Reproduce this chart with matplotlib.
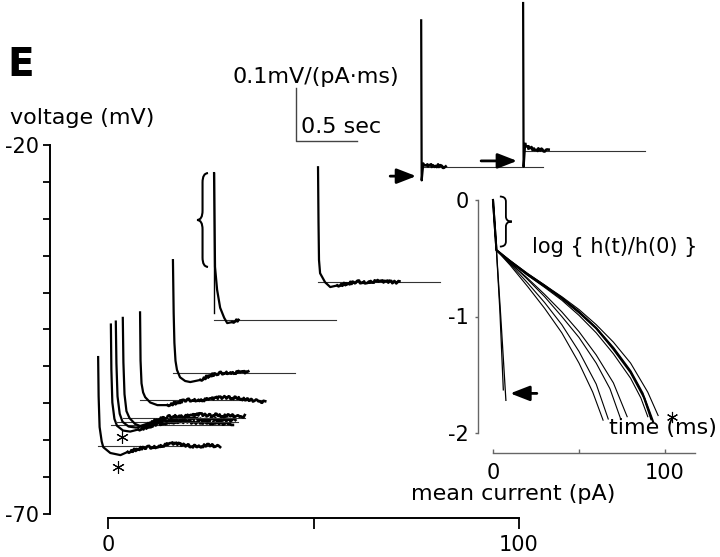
import numpy as np
import matplotlib.pyplot as plt
from matplotlib.path import Path
from matplotlib.patches import PathPatch

plt.rcParams['font.family'] = ['DejaVu Sans']
plt.rcParams['axes.unicode_minus'] = False

W, H = 720, 557

# offset of each response: mean current (pA) and voltage (mV)
mean_current = [-2.4, 0.7, 1.9, 3.6, 7.8, 15.8, 25.8, 51.1, 76.2, 101.0]
voltage = [-60.8, -57.9, -57.5, -57.0, -54.6, -50.9, -43.7, -38.6, -23.0, -20.8]
# time (ms) where the trace becomes noisy
noise_start = [242, 225, 230, 210, 225, 225, 150, 158, 17, 17]

# impulse responses h(t): time (ms), h (mV/(pA*ms))
a_t = [0, 4, 12, 29, 42, 100, 183, 242, 350, 420, 490, 550, 600, 650, 710, 770, 825, 870, 908, 960, 1000]
a_h = [.168, .094, .036, .009, -.002, -.013, -.017, -.011, -.004, -.002, -.001, .002, .005, .004, .002, .000, -.001, .001, .002, .000, -.001]
b_t = [0, 4, 12, 29, 50, 100, 158, 225, 308, 370, 430, 500, 560, 620, 680, 740, 800, 860, 920, 1000]
b_h = [.189, .104, .042, .011, -.002, -.011, -.013, -.009, -.004, .001, .003, .005, .004, .006, .004, .005, .003, .004, .002, .002]
b2_t = [0, 5, 14, 32, 55, 105, 165, 230, 310, 380, 450, 520, 590, 660, 730, 800, 870, 930, 980]
b2_h = [.189, .110, .048, .015, .000, -.009, -.011, -.008, -.002, .002, .004, .003, .006, .005, .003, .005, .004, .003, .004]
c_t = [0, 5, 14, 30, 55, 100, 142, 210, 290, 360, 430, 500, 570, 640, 700, 760, 820, 880, 940, 1000]
c_h = [.189, .105, .045, .013, .000, -.011, -.015, -.010, -.003, .002, .004, .003, .005, .007, .005, .006, .004, .005, .003, .004]
d_t = [0, 4, 12, 25, 42, 83, 142, 225, 308, 360, 430, 500, 560, 620, 692, 750, 808, 860, 917, 970, 1025]
d_h = [.166, .075, .032, .015, .006, -.004, -.009, -.009, -.004, .000, .001, .000, .002, .004, .006, .005, .004, .002, .000, -.001, -.003]
e_t = [0, 6, 12, 21, 33, 58, 100, 142, 225, 308, 370, 430, 490, 550, 617]
e_h = [.213, .113, .057, .023, .006, -.008, -.015, -.017, -.013, -.004, -.001, .001, .000, .002, .001]
f_t = [0, 8, 25, 50, 83, 108, 150, 175, 200]
f_h = [.277, .100, .057, .023, .004, -.006, -.004, -.001, .000]
g_t = [0, 4, 8, 17, 58, 100, 158, 250, 320, 400, 480, 560, 667]
g_h = [.217, .113, .042, .017, .000, -.009, -.006, -.002, .001, .000, .002, .001, .000]
h_t = [0, 4, 17, 50, 80, 110, 140, 170, 200]
h_h = [.277, -.025, .006, .004, .003, .002, .003, .001, .000]
i_t = [0, 4, 17, 50, 80, 110, 140, 170, 208]
i_h = [.279, -.030, .013, .006, .004, .002, .003, .001, .000]

# scale bar values
bar_ms = 500
bar_h = 0.1
baseline_ms = 1000

# inset: log{h(t)/h(0)} vs time (ms)
s1_t = [0, 2, 10, 20, 30, 40, 50, 58, 64]
s1_y = [0, -.43, -.56, -.74, -.93, -1.14, -1.40, -1.65, -1.89]
s2_t = [0, 2, 10, 20, 30, 40, 50, 60, 67]
s2_y = [0, -.43, -.55, -.71, -.88, -1.07, -1.30, -1.58, -1.88]
s3_t = [0, 2, 10, 20, 30, 40, 50, 60, 68, 74]
s3_y = [0, -.43, -.54, -.68, -.83, -1.0, -1.18, -1.40, -1.62, -1.87]
s4_t = [0, 2, 10, 20, 30, 40, 50, 60, 70, 78]
s4_y = [0, -.43, -.54, -.67, -.81, -.96, -1.13, -1.33, -1.57, -1.86]
s5_t = [0, 2, 10, 20, 30, 40, 50, 60, 70, 80, 86, 90]
s5_y = [0, -.43, -.53, -.645, -.75, -.86, -.99, -1.14, -1.32, -1.53, -1.70, -1.86]
s6_t = [0, 2, 10, 20, 30, 40, 50, 60, 70, 80, 88, 93]
s6_y = [0, -.43, -.53, -.64, -.74, -.84, -.96, -1.10, -1.28, -1.48, -1.70, -1.90]
s7_t = [0, 2, 10, 20, 30, 40, 50, 60, 70, 80, 90, 96]
s7_y = [0, -.43, -.52, -.63, -.73, -.83, -.94, -1.07, -1.22, -1.40, -1.65, -1.85]
s8_t = [0, 2, 10, 20, 30, 40, 50, 60, 70, 80, 87, 92]
s8_y = [0, -.43, -.525, -.635, -.735, -.845, -.965, -1.10, -1.27, -1.47, -1.66, -1.88]
fast1_t = [0, 2, 4, 6]
fast1_y = [0, -.43, -.95, -1.63]
fast2_t = [0, 2, 4.5, 7.5]
fast2_y = [0, -.43, -1.0, -1.72]

traces = [(a_t, a_h), (b_t, b_h), (b2_t, b2_h), (c_t, c_h), (d_t, d_h),
          (e_t, e_h), (f_t, f_h), (g_t, g_h), (h_t, h_h), (i_t, i_h)]


fig = plt.figure(figsize=(W / 100, H / 100), dpi=100)


def px_box(x0, y0, x1, y1):
    return [x0 / W, 1 - y1 / H, (x1 - x0) / W, (y1 - y0) / H]


def brace(axis, x_back, x_tip, y_top, y_bot, lw=1.5):
    # curly brace, flat side at x_back, point at x_tip
    xm = (x_back + x_tip) / 2
    yc = (y_top + y_bot) / 2
    d = (y_top - y_bot) * 0.1
    verts = [(x_back, y_top), (xm, y_top), (xm, y_top - d),
             (xm, yc + d), (xm, yc), (x_tip, yc),
             (xm, yc), (xm, yc - d), (xm, y_bot + d),
             (xm, y_bot), (x_back, y_bot)]
    codes = [Path.MOVETO, Path.CURVE3, Path.CURVE3, Path.LINETO, Path.CURVE3, Path.CURVE3,
             Path.CURVE3, Path.CURVE3, Path.LINETO, Path.CURVE3, Path.CURVE3]
    axis.add_patch(PathPatch(Path(verts, codes), fill=False, lw=lw, color='k', clip_on=False))


# ---------------- main axes: mean current vs voltage ----------------
px_per_pa = (519 - 108) / 100
px_per_mv = (514 - 145) / 50
ax = fig.add_axes(px_box(0, 0, W, H))
ax.set_xlim(-108 / px_per_pa, (W - 108) / px_per_pa)
ax.set_ylim(-20 - (H - 145) / px_per_mv, -20 + 145 / px_per_mv)
ax.patch.set_visible(False)
for s in ['top', 'right']:
    ax.spines[s].set_visible(False)
ax.spines['left'].set_position(('data', (50 - 108) / px_per_pa))
ax.spines['left'].set_bounds(-70, -20)
ax.spines['bottom'].set_position(('data', -20 - (518 - 145) / px_per_mv))
ax.spines['bottom'].set_bounds(0, 100)
for s in ['left', 'bottom']:
    ax.spines[s].set_linewidth(1.4)
ax.set_yticks([-70, -20])
ax.set_yticks(np.arange(-65, -20, 5), minor=True)
ax.tick_params(axis='y', which='both', direction='out', length=5, width=1.3, labelsize=15, pad=3)
ax.set_xticks([0, 50, 100])
ax.set_xticklabels(['0', '', '100'])
ax.tick_params(axis='x', direction='out', length=8, width=1.3, labelsize=15, pad=4)

# conversion of response units into the main axes, from the scale bar
bar_x0 = (296 - 108) / px_per_pa
bar_y0 = -20 - (141 - 145) / px_per_mv
pa_per_ms = (357 - 296) / px_per_pa / bar_ms
mv_per_h = (141 - 88) / px_per_mv / bar_h

for (t, hv), I0, V0, tn in zip(traces, mean_current, voltage, noise_start):
    t = np.array(t, dtype=float)
    hv = np.array(hv)
    x = I0 + t * pa_per_ms
    y = V0 + hv * mv_per_h
    # baseline
    ax.plot([I0, I0 + baseline_ms * pa_per_ms], [V0, V0], color='#333333', lw=0.8, clip_on=False)
    quiet = t <= tn
    ax.plot(x[quiet], y[quiet], color='k', lw=1.6, clip_on=False, solid_joinstyle='round')
    noisy = t >= tn
    ln, = ax.plot(x[noisy], y[noisy], color='k', lw=1.9, clip_on=False)
    ln.set_sketch_params(scale=1.3, length=2, randomness=3)

# straight initial segment of trace F
ax.plot([mean_current[6], mean_current[6]], [voltage[6] + f_h[0] * mv_per_h, voltage[6] + 7 / px_per_mv],
        color='k', lw=1.0, clip_on=False)

# scale bar
ax.plot([bar_x0, bar_x0, bar_x0 + bar_ms * pa_per_ms],
        [bar_y0 + bar_h * mv_per_h, bar_y0, bar_y0], color='#444444', lw=1.0, clip_on=False)

# brace beside trace F
brace(ax, mean_current[6] - 6 / px_per_pa, mean_current[6] - 17 / px_per_pa,
      voltage[6] + f_h[0] * mv_per_h, voltage[6] + f_h[1] * mv_per_h)

# arrows to the two fast traces
arrow = dict(arrowstyle='-|>,head_length=0.9,head_width=0.35', lw=2, color='k',
             shrinkA=0, shrinkB=0, mutation_scale=13)
ax.annotate('', xy=(mean_current[8] - 5 / px_per_pa, voltage[8] - 9 / px_per_mv),
            xytext=(mean_current[8] - 31 / px_per_pa, voltage[8] - 9 / px_per_mv),
            arrowprops=arrow, annotation_clip=False)
ax.annotate('', xy=(mean_current[9] - 6 / px_per_pa, voltage[9] - 10 / px_per_mv),
            xytext=(mean_current[9] - 42 / px_per_pa, voltage[9] - 10 / px_per_mv),
            arrowprops=arrow, annotation_clip=False)

# asterisks under traces A and B
ax.plot([mean_current[0] + 20 / px_per_pa, mean_current[1] + 11 / px_per_pa],
        [voltage[0] - 21 / px_per_mv, voltage[1] - 12 / px_per_mv],
        ls='none', marker=(6, 2, 0), ms=9, mew=0.8, color='k', clip_on=False)

# ---------------- inset: log{h(t)/h(0)} ----------------
px_per_ms = (665 - 493) / 100
px_per_log = (433 - 200) / 2
ins = fig.add_axes(px_box(440, 180, W, 470))
ins.set_xlim((440 - 493) / px_per_ms, (W - 493) / px_per_ms)
ins.set_ylim(-(470 - 200) / px_per_log, (200 - 180) / px_per_log)
ins.patch.set_visible(False)
for s in ['top', 'right']:
    ins.spines[s].set_visible(False)
ins.spines['left'].set_position(('data', (478 - 493) / px_per_ms))
ins.spines['left'].set_bounds(-2, 0)
ins.spines['bottom'].set_position(('data', -(453 - 200) / px_per_log))
ins.spines['bottom'].set_bounds(0, (695 - 493) / px_per_ms)
for s in ['left', 'bottom']:
    ins.spines[s].set_color('#666666')
    ins.spines[s].set_linewidth(1.0)
ins.set_yticks([0, -1, -2])
ins.set_yticklabels(['0', '-1', '-2'])
ins.tick_params(axis='y', direction='out', length=2.5, width=1, color='#666666', labelsize=15, pad=4)
ins.set_xticks([0, 50, 100])
ins.set_xticklabels(['0', '', '100'])
ins.tick_params(axis='x', direction='in', length=3, width=1, color='#666666', labelsize=15, pad=7)

thin_curves = [(s1_t, s1_y), (s2_t, s2_y), (s3_t, s3_y), (s4_t, s4_y), (s5_t, s5_y), (s7_t, s7_y)]
for t, yv in thin_curves:
    ins.plot(t, yv, color='k', lw=0.8)
for t, yv in [(s6_t, s6_y), (s8_t, s8_y)]:
    ins.plot(t, yv, color='k', lw=1.5)
for t, yv in [(fast1_t, fast1_y), (fast2_t, fast2_y)]:
    ins.plot(t, yv, color='k', lw=0.9)

brace(ins, 4, 11, 0.03, -0.40, lw=1.3)
ins.annotate('', xy=(fast2_t[-1] + 2.5, fast1_y[-1] - 0.03), xytext=(fast2_t[-1] + 18, fast1_y[-1] - 0.03),
             arrowprops=arrow, annotation_clip=False)
ins.plot([s7_t[-1] + 8], [s7_y[-1] - 0.01], ls='none', marker=(6, 2, 0), ms=8, mew=0.8, color='k',
         clip_on=False)

# ---------------- texts ----------------
def ftext(x, y, s, **kw):
    fig.text(x / W, 1 - y / H, s, va='center', **kw)


ftext(7, 65, 'E', fontsize=28, fontweight='bold')
ftext(10, 118, 'voltage (mV)', fontsize=16)
ftext(233, 77, '0.1mV/(pA\u00b7ms)', fontsize=16)
ftext(301, 127, '0.5 sec', fontsize=16)
ftext(513, 494, 'mean current (pA)', fontsize=16, ha='center')
ftext(717, 428, 'time (ms)', fontsize=16, ha='right')
ftext(532, 247, 'log { h(t)/h(0) }', fontsize=15)

fig.savefig('out.png', dpi=100)
